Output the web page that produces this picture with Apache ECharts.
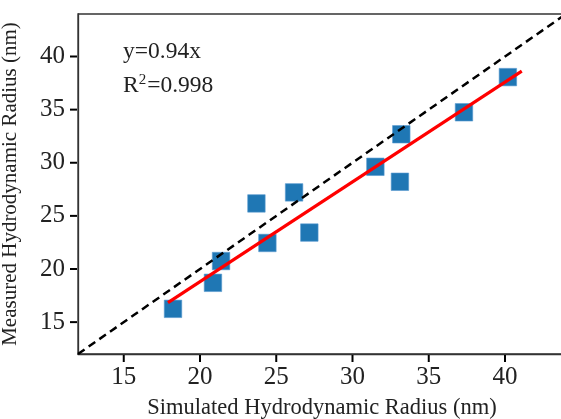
<!DOCTYPE html>
<html><head><meta charset="utf-8">
<script src="https://cdn.jsdelivr.net/npm/echarts@6/dist/echarts.min.js"></script>
<style>html,body{margin:0;padding:0;overflow:hidden;background:#fff}#c{width:566px;height:419px}</style>
</head><body><div id="c"></div>
<script>
// Data
const simulated = [18.23, 20.85, 21.38, 23.70, 24.42, 26.17, 27.17, 31.50, 33.20, 33.11, 37.31, 40.19];
const measured  = [16.25, 18.70, 20.75, 26.17, 22.45, 27.21, 23.43, 29.62, 32.68, 28.21, 34.75, 38.06];
const fitX = [17.9, 41.1];
const fitY = [16.83, 38.63];
const identityX = [12, 44];
const identityY = [12, 44];
const xTicks = [15, 20, 25, 30, 35, 40];
const yTicks = [15, 20, 25, 30, 35, 40];
const axisMin = 12, axisMax = 44;
const fitLabel = 'y=0.94x';
const r2Value = '0.998';

const font = '"Liberation Serif", "DejaVu Serif", serif';
const chart = echarts.init(document.getElementById('c'), null, {renderer: 'canvas'});
const pts = simulated.map((x, i) => [x, measured[i]]);
const TICK_LEN = 7;
chart.setOption({
  animation: false,
  grid: {left: 78, right: 0, top: 14, bottom: 65, show: true, borderColor: '#333', borderWidth: 1.3,
         containLabel: false, outerBoundsMode: 'none'},
  xAxis: {
    type: 'value', min: axisMin, max: axisMax,
    name: 'Simulated Hydrodynamic Radius (nm)', nameLocation: 'middle', nameGap: 43,
    nameTextStyle: {fontFamily: font, fontSize: 22.5, color: '#222'},
    axisLine: {show: true, lineStyle: {color: '#333', width: 1.3}},
    axisTick: {show: false},
    axisLabel: {
      customValues: xTicks, margin: 1,
      formatter: v => '{t|}\n{v|' + v + '}',
      rich: {
        t: {width: 2, height: TICK_LEN, lineHeight: TICK_LEN, backgroundColor: '#000', align: 'center'},
        v: {fontFamily: font, fontSize: 25, color: '#222', lineHeight: 30, align: 'center'}
      }
    },
    splitLine: {show: false}
  },
  yAxis: {
    type: 'value', min: axisMin, max: axisMax,
    name: 'Measured Hydrodynamic Radius (nm)', nameLocation: 'middle', nameGap: 57,
    nameTextStyle: {fontFamily: font, fontSize: 21, color: '#222'},
    axisLine: {show: true, lineStyle: {color: '#333', width: 1.3}},
    axisTick: {show: false},
    axisLabel: {
      customValues: yTicks, margin: 1,
      formatter: v => '{v|' + v + '}{g|}{t|}',
      rich: {
        v: {fontFamily: font, fontSize: 25, color: '#222'},
        g: {width: 5},
        t: {width: TICK_LEN, height: 2, backgroundColor: '#000'}
      }
    },
    splitLine: {show: false}
  },
  series: [
    {type: 'line', data: identityX.map((x, i) => [x, identityY[i]]), symbol: 'none', silent: true,
     lineStyle: {color: '#000', width: 2.5, type: [8, 5]}, z: 3},
    {type: 'scatter', data: pts, symbol: 'rect', symbolSize: 17.5,
     itemStyle: {color: '#1f77b4', borderColor: '#5b9bd0', borderWidth: 0.6, opacity: 1}, z: 2},
    {type: 'line', data: fitX.map((x, i) => [x, fitY[i]]), symbol: 'none', silent: true,
     lineStyle: {color: '#ff0000', width: 3.2}, z: 4}
  ],
  graphic: [
    {type: 'text', left: 123, top: 40, style: {text: fitLabel, font: '23.5px ' + font, fill: '#222'}},
    {type: 'text', left: 123, top: 73, style: {text: 'R{s|2}=' + r2Value, font: '23.5px ' + font, fill: '#222',
      rich: {s: {fontSize: 15, fontFamily: '"Liberation Serif", serif', verticalAlign: 'top', padding: [0,1,11,0]}}}}
  ]
});
</script></body></html>
